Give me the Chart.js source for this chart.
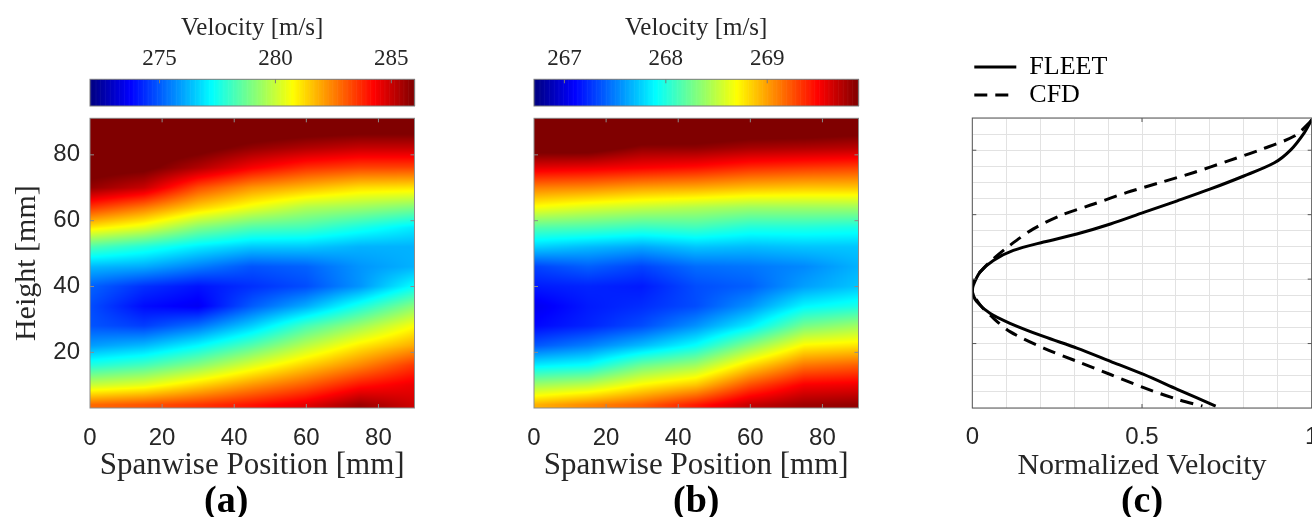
<!DOCTYPE html>
<html lang="en">

<head>
    <meta charset="UTF-8">
    <title>Velocity fields - FLEET vs CFD</title>
    <script src="https://cdn.jsdelivr.net/npm/chart.js"></script>
    <style>
        body { margin: 0; background: #fff; width: 1312px; height: 517px; position: relative; overflow: hidden; }
        canvas { position: absolute; }
    </style>
</head>

<body>
    <canvas id="cbarA" width="440" height="110" style="left:0;top:0"></canvas>
    <canvas id="mapA" width="440" height="407" style="left:0;top:110px"></canvas>
    <canvas id="cbarB" width="440" height="110" style="left:444px;top:0"></canvas>
    <canvas id="mapB" width="440" height="407" style="left:444px;top:110px"></canvas>
    <canvas id="profile" width="372" height="477" style="left:940px;top:40px"></canvas>

    <script>
        // ---- data ----
        // grid nodes (mm)
        var spanPos = [0, 15, 30, 45, 60, 75, 90];
        var heightPos = [4, 10, 16, 22, 28, 34, 40, 46, 52, 58, 64, 70, 76, 82, 88];

        // (a) velocity [m/s], one row per height, one column per spanwise position
        var velA = [
            [282.8, 283.1, 283.5, 284.0, 284.6, 285.6, 284.9],
            [280.0, 280.4, 281.3, 282.2, 283.0, 284.0, 284.5],
            [277.7, 278.2, 279.1, 280.3, 281.4, 282.4, 283.5],
            [275.9, 276.3, 277.2, 278.4, 279.8, 281.0, 281.9],
            [274.9, 274.6, 275.3, 276.6, 278.2, 279.4, 280.7],
            [274.8, 273.9, 273.6, 275.0, 276.1, 277.6, 279.1],
            [275.1, 274.4, 274.0, 274.4, 274.8, 275.8, 277.3],
            [276.3, 276.1, 275.5, 274.9, 275.1, 275.8, 276.2],
            [278.3, 277.7, 277.0, 276.5, 276.5, 276.2, 276.2],
            [281.1, 280.4, 279.1, 278.4, 278.2, 277.6, 277.0],
            [283.5, 282.6, 281.4, 280.5, 279.7, 279.4, 279.0],
            [285.7, 285.0, 283.2, 282.2, 281.7, 281.2, 281.1],
            [286.4, 286.2, 285.3, 284.3, 283.6, 283.3, 283.3],
            [286.8, 286.6, 286.3, 285.7, 285.3, 285.0, 285.0],
            [287.0, 287.0, 286.9, 286.7, 286.5, 286.4, 286.4]
        ];

        // (b) velocity [m/s]
        var velB = [
            [268.94, 269.07, 269.20, 269.42, 269.68, 269.80, 269.84],
            [268.40, 268.49, 268.72, 268.88, 269.26, 269.52, 269.55],
            [267.85, 267.92, 268.24, 268.40, 268.81, 269.13, 269.20],
            [267.37, 267.50, 267.69, 267.92, 268.33, 268.72, 268.78],
            [267.12, 267.21, 267.34, 267.56, 267.85, 268.27, 268.40],
            [267.05, 267.18, 267.24, 267.34, 267.56, 267.88, 267.98],
            [267.18, 267.21, 267.18, 267.34, 267.40, 267.60, 267.72],
            [267.31, 267.40, 267.31, 267.44, 267.47, 267.53, 267.66],
            [267.76, 267.69, 267.63, 267.72, 267.69, 267.72, 267.72],
            [268.17, 268.14, 268.08, 268.11, 268.01, 268.01, 267.98],
            [268.68, 268.59, 268.52, 268.46, 268.40, 268.40, 268.40],
            [269.10, 269.07, 269.00, 268.97, 268.91, 268.88, 268.88],
            [269.58, 269.55, 269.50, 269.45, 269.36, 269.32, 269.29],
            [270.00, 270.00, 269.84, 269.84, 269.77, 269.74, 269.71],
            [270.20, 270.20, 270.15, 270.10, 270.05, 270.05, 270.00]
        ];

        var rangeA = [272, 286];
        var rangeB = [266.7, 269.9];
        var cbarTicksA = [275, 280, 285];
        var cbarTicksB = [267, 268, 269];
        var spanTicks = [0, 20, 40, 60, 80];
        var heightTicks = [20, 40, 60, 80];
        var velTicks = [0, 0.5, 1];

        // (c) normalized velocity profiles
        var fleetVel = [1.0, 0.978, 0.939, 0.89, 0.80, 0.70, 0.604, 0.505, 0.407, 0.308, 0.21, 0.121, 0.062, 0.023, 0.003, 0.0, 0.013, 0.052, 0.111, 0.21, 0.308, 0.407, 0.505, 0.604, 0.717];
        var fleetHeight = [89.5, 85.4, 80.2, 76.1, 72, 67.9, 64.3, 60.7, 57.1, 54.0, 51.5, 48.9, 45.8, 42.2, 38.1, 36.1, 33, 29.4, 26.3, 22.2, 18.6, 14.5, 10.4, 5.8, 0.6];
        var cfdVel = [0.998, 0.949, 0.85, 0.752, 0.653, 0.555, 0.456, 0.358, 0.259, 0.18, 0.111, 0.062, 0.023, 0.003, 0.0, 0.023, 0.062, 0.111, 0.21, 0.308, 0.407, 0.505, 0.604, 0.678];
        var cfdHeight = [89, 84.4, 80.2, 76.6, 73.1, 70, 66.9, 63.3, 59.7, 55.6, 50.5, 46.3, 42.2, 39.2, 36.1, 32, 27.9, 23.7, 18.6, 14.5, 10.4, 6.3, 2.7, 0.6];

        // ---- helpers ----
        var serif = "'Liberation Serif', 'Times New Roman', serif";
        var sans = "'Liberation Sans', Arial, sans-serif";
        var textColor = '#262626';

        // matlab jet colormap
        function jet(t) {
            t = Math.min(1, Math.max(0, t));
            var f = function (v) { return Math.round(255 * Math.min(1, Math.max(0, v))); };
            return [f(1.5 - Math.abs(4 * t - 3)), f(1.5 - Math.abs(4 * t - 2)), f(1.5 - Math.abs(4 * t - 1))];
        }

        function locate(arr, v) {
            var n = arr.length - 1;
            if (v <= arr[0]) return [0, 0];
            if (v >= arr[n]) return [n - 1, 1];
            var i = 0;
            while (v > arr[i + 1]) i++;
            return [i, (v - arr[i]) / (arr[i + 1] - arr[i])];
        }

        function sample(grid, xv, yv) {
            var cx = locate(spanPos, xv), cy = locate(heightPos, yv);
            var i = cx[0], fx = cx[1], j = cy[0], fy = cy[1];
            var lo = grid[j][i] * (1 - fx) + grid[j][i + 1] * fx;
            var hi = grid[j + 1][i] * (1 - fx) + grid[j + 1][i + 1] * fx;
            return lo * (1 - fy) + hi * fy;
        }

        function fixedTicks(values) {
            return function (scale) { scale.ticks = values.map(function (v) { return { value: v }; }); };
        }

        // keep the plot boxes exactly where they sit in the figure
        function fixHeight(h) {
            return function (s) { s.height = h; s.paddingLeft = 0; s.paddingRight = 0; };
        }
        function fixWidth(w) {
            return function (s) { s.width = w; s.paddingTop = 0; s.paddingBottom = 0; };
        }

        // shaded field, each pixel mapped back through the chart scales
        var heatmapPlugin = {
            id: 'heatmap',
            beforeDatasetsDraw: function (chart, args, opts) {
                var a = chart.chartArea, x = chart.scales.x, y = chart.scales.y;
                var w = Math.round(a.right - a.left), h = Math.round(a.bottom - a.top);
                var off = document.createElement('canvas');
                off.width = w; off.height = h;
                var octx = off.getContext('2d');
                var img = octx.createImageData(w, h);
                for (var py = 0; py < h; py++) {
                    var yv = y.getValueForPixel(a.top + py + 0.5);
                    for (var px = 0; px < w; px++) {
                        var xv = x.getValueForPixel(a.left + px + 0.5);
                        var v = sample(opts.grid, xv, yv);
                        var c = jet((v - opts.range[0]) / (opts.range[1] - opts.range[0]));
                        var k = 4 * (py * w + px);
                        img.data[k] = c[0]; img.data[k + 1] = c[1]; img.data[k + 2] = c[2]; img.data[k + 3] = 255;
                    }
                }
                octx.putImageData(img, 0, 0);
                chart.ctx.drawImage(off, a.left, a.top, a.right - a.left, a.bottom - a.top);
            }
        };

        var colorbarPlugin = {
            id: 'colorbar',
            beforeDatasetsDraw: function (chart, args, opts) {
                var ctx = chart.ctx, a = chart.chartArea, x = chart.scales.x;
                var lo = opts.range[0], hi = opts.range[1], n = 256;
                for (var i = 0; i < n; i++) {
                    var p0 = x.getPixelForValue(lo + (hi - lo) * i / n);
                    var p1 = x.getPixelForValue(lo + (hi - lo) * (i + 1) / n);
                    var c = jet((i + 0.5) / n);
                    ctx.fillStyle = 'rgb(' + c[0] + ',' + c[1] + ',' + c[2] + ')';
                    ctx.fillRect(p0, a.top, p1 - p0 + 0.6, a.bottom - a.top);
                }
            }
        };

        // box around the plot plus short inward tick marks (matlab style)
        var framePlugin = {
            id: 'frame',
            afterDraw: function (chart, args, opts) {
                var ctx = chart.ctx, a = chart.chartArea, len = 4;
                ctx.save();
                ctx.strokeStyle = opts.color || '#888';
                ctx.lineWidth = 1;
                ctx.strokeRect(a.left, a.top, a.right - a.left, a.bottom - a.top);
                ctx.beginPath();
                (opts.xTicks || []).forEach(function (v) {
                    var p = chart.scales.x.getPixelForValue(v);
                    if (opts.bothSides !== false) { ctx.moveTo(p, a.bottom); ctx.lineTo(p, a.bottom - len); }
                    ctx.moveTo(p, a.top); ctx.lineTo(p, a.top + len);
                });
                (opts.yTicks || []).forEach(function (v) {
                    var p = chart.scales.y.getPixelForValue(v);
                    ctx.moveTo(a.left, p); ctx.lineTo(a.left + len, p);
                    ctx.moveTo(a.right, p); ctx.lineTo(a.right - len, p);
                });
                ctx.stroke();
                ctx.restore();
            }
        };

        var noGrid = { display: false, drawTicks: false };

        function colorbarChart(id, range, ticks) {
            return new Chart(document.getElementById(id), {
                type: 'scatter',
                data: { datasets: [] },
                options: {
                    responsive: false,
                    animation: false,
                    events: [],
                    layout: { padding: { left: 90, right: 25.5, top: 0, bottom: 4 } },
                    plugins: {
                        legend: { display: false },
                        tooltip: { enabled: false },
                        colorbar: { range: range },
                        frame: { color: '#7a7a7a', xTicks: ticks, bothSides: false }
                    },
                    scales: {
                        x: {
                            position: 'top', min: range[0], max: range[1],
                            afterBuildTicks: fixedTicks(ticks),
                            afterFit: fixHeight(79.3),
                            grid: noGrid, border: { display: false },
                            ticks: { padding: 7, color: textColor, font: { family: serif, size: 23 } },
                            title: { display: true, text: 'Velocity [m/s]', padding: { top: 16, bottom: 0 }, color: textColor, font: { family: serif, size: 25, lineHeight: 1 } }
                        },
                        y: { display: false }
                    }
                },
                plugins: [colorbarPlugin, framePlugin]
            });
        }

        function heatmapChart(id, grid, range, label, showHeight) {
            return new Chart(document.getElementById(id), {
                type: 'scatter',
                data: { datasets: [] },
                options: {
                    responsive: false,
                    animation: false,
                    events: [],
                    layout: { padding: { left: 0, right: 25.5, top: 8.3, bottom: 0 } },
                    plugins: {
                        legend: { display: false },
                        tooltip: { enabled: false },
                        title: { display: true, text: label, position: 'bottom', fullSize: showHeight, padding: { top: 6, bottom: 0 }, color: '#000', font: { family: serif, size: 38, weight: 'bold', lineHeight: '30px' } },
                        heatmap: { grid: grid, range: range },
                        frame: { color: '#8c8c8c', xTicks: spanTicks.slice(1), yTicks: heightTicks }
                    },
                    scales: {
                        x: {
                            min: 0, max: 90,
                            afterBuildTicks: fixedTicks(spanTicks),
                            afterFit: fixHeight(73),
                            grid: noGrid, border: { display: false },
                            ticks: { padding: 16, maxRotation: 0, color: textColor, font: { family: sans, size: 24 } },
                            title: { display: true, text: 'Spanwise Position [mm]', padding: 0, color: textColor, font: { family: serif, size: 31, lineHeight: 1 } }
                        },
                        y: {
                            min: 3.1, max: 91.1,
                            afterBuildTicks: fixedTicks(heightTicks),
                            afterFit: fixWidth(90),
                            grid: noGrid, border: { display: false },
                            ticks: { display: showHeight, padding: 10, color: textColor, font: { family: sans, size: 24 } },
                            title: { display: showHeight, text: 'Height [mm]', padding: { top: 12, bottom: 0 }, color: textColor, font: { family: serif, size: 30, lineHeight: 1 } }
                        }
                    }
                },
                plugins: [heatmapPlugin, framePlugin]
            });
        }

        colorbarChart('cbarA', rangeA, cbarTicksA);
        // leading spaces nudge the full-width label over the panel centre
        heatmapChart('mapA', velA, rangeA, '\u00a0\u00a0\u00a0\u00a0(a)', true);
        colorbarChart('cbarB', rangeB, cbarTicksB);
        heatmapChart('mapB', velB, rangeB, '(b)', false);

        // (c) profiles
        function points(xs, ys) {
            return xs.map(function (v, i) { return { x: v, y: ys[i] }; });
        }

        new Chart(document.getElementById('profile'), {
            type: 'scatter',
            data: {
                datasets: [{
                    label: 'FLEET',
                    data: points(fleetVel, fleetHeight),
                    showLine: true, borderColor: '#000', borderWidth: 3, pointRadius: 0, tension: 0.3
                }, {
                    label: 'CFD',
                    data: points(cfdVel, cfdHeight),
                    showLine: true, borderColor: '#000', borderWidth: 3, borderDash: [13, 8], pointRadius: 0, tension: 0.3
                }]
            },
            options: {
                responsive: false,
                animation: false,
                events: [],
                layout: { padding: { left: 0, right: 0.3, top: 12, bottom: 0 } },
                plugins: {
                    tooltip: { enabled: false },
                    legend: {
                        position: 'top', align: 'start', fullSize: false,
                        labels: {
                            usePointStyle: true, pointStyle: 'line', pointStyleWidth: 42, padding: 2,
                            color: '#000', font: { family: serif, size: 26 },
                            generateLabels: function (chart) {
                                var items = Chart.defaults.plugins.legend.labels.generateLabels(chart);
                                items.forEach(function (it) {
                                    var ds = chart.data.datasets[it.datasetIndex];
                                    it.lineDash = ds.borderDash || [];
                                    it.lineWidth = ds.borderWidth;
                                    it.strokeStyle = ds.borderColor;
                                });
                                // pad first label so the second one wraps onto its own row
                                items[0].text += '\u00a0'.repeat(30);
                                return items;
                            }
                        }
                    },
                    title: { display: true, text: '(c)', position: 'bottom', fullSize: false, padding: { top: 6, bottom: 0 }, color: '#000', font: { family: serif, size: 38, weight: 'bold', lineHeight: '30px' } },
                    frame: { color: '#555', xTicks: [0.5], yTicks: heightTicks }
                },
                scales: {
                    x: {
                        min: 0, max: 1,
                        afterFit: fixHeight(73),
                        grid: { color: '#e2e2e2', drawTicks: false }, border: { display: false },
                        ticks: {
                            stepSize: 0.1, autoSkip: false, maxRotation: 0, padding: 15,
                            color: textColor, font: { family: sans, size: 24 },
                            callback: function (v) {
                                var hit = velTicks.filter(function (t) { return Math.abs(t - v) < 1e-6; });
                                return hit.length ? String(hit[0]) : '';
                            }
                        },
                        title: { display: true, text: 'Normalized Velocity', padding: 0, color: textColor, font: { family: serif, size: 30, lineHeight: 1 } }
                    },
                    y: {
                        min: 0, max: 90,
                        afterFit: fixWidth(32.3),
                        grid: { color: '#e2e2e2', drawTicks: false }, border: { display: false },
                        ticks: { stepSize: 5, display: false }
                    }
                }
            },
            plugins: [framePlugin]
        });
    </script>
</body>

</html>
